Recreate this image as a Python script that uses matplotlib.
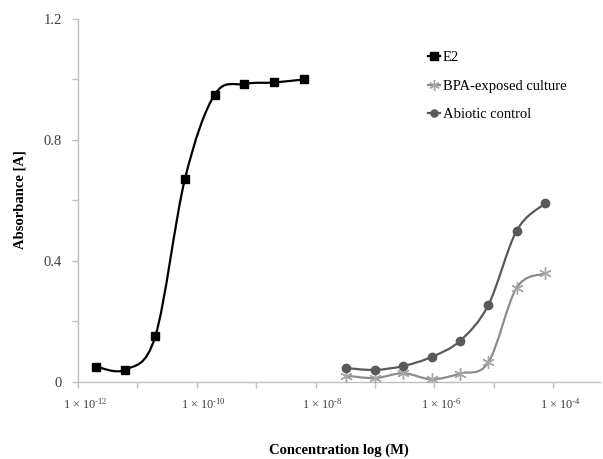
import numpy as np
import matplotlib
matplotlib.use("Agg")
import matplotlib.pyplot as plt
from matplotlib.path import Path
from matplotlib.patches import PathPatch
from matplotlib.lines import Line2D
import matplotlib.transforms as mtransforms

plt.rcParams['font.family'] = ['Liberation Serif', 'DejaVu Serif']
plt.rcParams['mathtext.fontset'] = 'custom'
plt.rcParams['mathtext.rm'] = 'Liberation Serif'
plt.rcParams['mathtext.it'] = 'Liberation Serif:italic'

# concentrations (M) and absorbance values
e2_conc = [2e-12, 6.3e-12, 2e-11, 6.3e-11, 2e-10, 6.3e-10, 2e-9, 6.3e-9]
e2_abs = [0.05, 0.04, 0.15, 0.67, 0.95, 0.985, 0.99, 1.0]

bpa_conc = [3.3e-8, 1e-7, 3e-7, 9e-7, 2.7e-6, 8.1e-6, 2.43e-5, 7.29e-5]
bpa_abs = [0.02, 0.012, 0.028, 0.008, 0.027, 0.064, 0.311, 0.358]
abiotic_abs = [0.045, 0.039, 0.052, 0.082, 0.135, 0.254, 0.50, 0.59]

series_names = ['E2', 'BPA-exposed culture', 'Abiotic control']
x_ticks = [-12, -11, -10, -9, -8, -7, -6, -5, -4]
y_ticks = [0, 0.2, 0.4, 0.6, 0.8, 1.0, 1.2]
y_labels = ['0', '', '0.4', '', '0.8', '', '1.2']


def smooth_path(x, y):
    # Excel-like smoothed line: cubic Bezier through the points
    pts = np.column_stack([x, y])
    n = len(pts)
    verts = [pts[0]]
    codes = [Path.MOVETO]
    for i in range(n - 1):
        p0 = pts[i - 1] if i > 0 else pts[i]
        p1 = pts[i]
        p2 = pts[i + 1]
        p3 = pts[i + 2] if i + 2 < n else pts[i + 1]
        c1 = p1 + (p2 - p0) / 6.0
        c2 = p2 - (p3 - p1) / 6.0
        verts += [c1, c2, p2]
        codes += [Path.CURVE4] * 3
    return Path(verts, codes)


fig = plt.figure(figsize=(6.03, 4.59), dpi=100)
ax = fig.add_axes([78 / 603, (459 - 381.7) / 459, 522 / 603, 362.7 / 459])

series = [
    (np.log10(e2_conc), e2_abs, 'black', 's', 6, 'black', 1.6),
    (np.log10(bpa_conc), bpa_abs, '#8c8c8c', (6, 2, 0), 9, '#a6a6a6', 1.6),
    (np.log10(bpa_conc), abiotic_abs, '#595959', 'o', 6, '#595959', 1.6),
]

handles = []
for (x, y, col, mk, ms, mcol, lw), name in zip(series, series_names):
    ax.add_patch(PathPatch(smooth_path(x, y), facecolor='none',
                           edgecolor=col, lw=lw, zorder=2))
    ax.plot(x, y, linestyle='none', marker=mk, markersize=ms,
            color=mcol, markeredgecolor=mcol, markeredgewidth=1, zorder=3)
    handles.append(Line2D([], [], color=col, lw=lw, marker=mk,
                          markersize=ms * 0.85, markeredgecolor=mcol,
                          markerfacecolor=mcol))

ax.set_xlim(-12, -12 + 522 / 59.4)
ax.set_ylim(0, 1.2)

ax.set_yticks(y_ticks)
ax.set_yticklabels(y_labels)
ax.set_xticks(x_ticks)
ax.set_xticklabels(['1 × 10$^{\\mathrm{\u2010%d}}$' % -t if t % 2 == 0 else ''
                    for t in x_ticks])

for s in ['top', 'right']:
    ax.spines[s].set_visible(False)
for s in ['left', 'bottom']:
    ax.spines[s].set_color('#bfbfbf')
    ax.spines[s].set_linewidth(1)

ax.tick_params(axis='y', direction='out', length=4, width=1, color='#bfbfbf',
               pad=7.5, labelsize=10.5, labelcolor='#404040')
ax.tick_params(axis='x', direction='out', length=4, width=1, color='#bfbfbf',
               pad=7, labelsize=8.8, labelcolor='#404040')
offset = mtransforms.ScaledTranslation(7 / 100, 0, fig.dpi_scale_trans)
for lab in ax.get_xticklabels():
    lab.set_transform(lab.get_transform() + offset)

fig.text(20 / 603, 1 - 200 / 459, 'Absorbance [A]', rotation=90,
         fontsize=10.5, fontweight='bold', ha='center', va='center')
fig.text(339 / 603, 1 - 450 / 459, 'Concentration log (M)',
         fontsize=10.5, fontweight='bold', ha='center', va='center')

ax.legend(handles, series_names, loc='upper left',
          bbox_to_anchor=(428 / 603, 1 - 51 / 459),
          bbox_transform=fig.transFigure, frameon=False, fontsize=10.5,
          handlelength=0.8, handletextpad=0.2, labelspacing=1.05,
          borderpad=0, borderaxespad=0)

fig.savefig('out.png', dpi=100)
